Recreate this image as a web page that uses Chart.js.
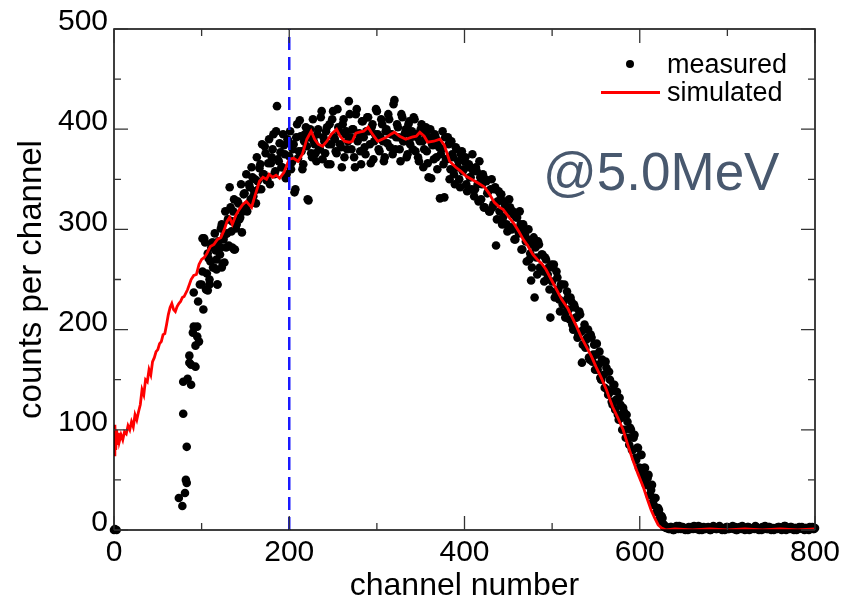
<!DOCTYPE html>
<html>
<head>
<meta charset="utf-8">
<script src="https://cdn.jsdelivr.net/npm/chart.js@4.4.1/dist/chart.umd.min.js"></script>
<style>
    html, body { margin: 0; padding: 0; background: #fff; }
    #wrap { position: relative; width: 856px; height: 603px; }
    #spectrumChart { display: block; }
    .note { position: absolute; left: 543px; top: 145px; font: 53px/1 "Liberation Sans", Arial, sans-serif; color: #48586e; white-space: nowrap; }
    .legend-text { position: absolute; left: 667px; font: 27px/1 "Liberation Sans", Arial, sans-serif; color: #000; white-space: nowrap; }
    .legend-dot { position: absolute; left: 626px; top: 60px; width: 8px; height: 8px; border-radius: 50%; background: #000; }
    .legend-line { position: absolute; left: 601px; top: 91px; width: 59px; height: 3px; background: #ff0000; }
</style>
</head>
<body>
<div id="wrap">
    <canvas id="spectrumChart" width="856" height="603"></canvas>
    <div class="note">@5.0MeV</div>
    <div class="legend-dot"></div>
    <div class="legend-line"></div>
    <div class="legend-text" style="top:51px">measured</div>
    <div class="legend-text" style="top:79px">simulated</div>
</div>
<script>
// axis ticks
const xMajorTicks = [0, 200, 400, 600, 800];
const xMinorTicks = [100, 300, 500, 700];
const yMajorTicks = [0, 100, 200, 300, 400, 500];
const yMinorTicks = [50, 150, 250, 350, 450];

// dashed marker channel
const markerChannel = 200;

// measured: sparse points read one by one
const measuredStemChannels = [0, 1, 3, 74, 78, 81, 82, 83, 83, 79, 79, 84, 88, 86, 88, 93, 86, 93, 97, 95, 90, 95, 91, 91, 96, 98, 107, 109, 118, 117, 123, 126, 101, 113, 122, 135, 137];
const measuredStemCounts = [0, 1, 0, 32, 24, 37, 50, 47, 83, 116, 148, 151, 145, 167, 165, 163, 174, 184, 188, 193, 197, 203, 203, 237, 228, 245, 239, 245, 245, 260, 262, 267, 291, 287, 282, 282, 280];

// measured band, even channels 100..630
const measuredEvenStart = 100;
const measuredEvenCounts = [
    245, 220, 287, 256, 271, 268,
    287, 262, 279, 245, 282, 301, 266, 294, 282, 310,
    342, 298, 318, 280, 305, 326, 312, 297, 335, 322,
    318, 345, 330, 352, 338, 326, 348, 361, 340, 355,
    383, 349, 366, 345, 372, 395, 358, 423, 368, 377,
    362, 384, 351, 390, 373, 360, 380, 337, 392, 371,
    409, 378, 365, 395, 383, 329, 400, 372, 388, 376,
    395, 380, 412, 370, 388, 398, 365, 405, 385, 418,
    390, 376, 402, 385, 362, 410, 395, 380, 428, 392,
    400, 372, 415, 388, 396, 365, 408, 382, 398, 412,
    385, 402, 370, 395, 418, 380, 392, 405, 368, 398,
    386, 410, 395, 375, 429, 392, 402, 380, 415, 388,
    396, 372, 405, 385, 398, 412, 378, 392, 368, 400,
    388, 380, 402, 366, 392, 351, 384, 395, 372, 388,
    331, 380, 365, 392, 370, 385, 360, 375, 355, 382,
    362, 350, 375, 358, 368, 345, 362, 352, 340, 358,
    340, 358, 328, 352, 345, 322, 350, 336, 318, 340,
    322, 340, 284, 328, 318, 335, 312, 325, 305, 318,
    322, 300, 315, 290, 312, 296, 305, 280, 298, 288,
    290, 270, 249, 285, 232, 272, 288, 262, 275, 258,
    272, 250, 262, 212, 248, 265, 238, 252, 230, 245,
    225, 245, 218, 232, 210, 228, 200, 222, 212, 195,
    215, 167, 200, 182, 192, 172, 195, 168, 185, 175,
    160, 178, 150, 168, 142, 162, 135, 150, 128, 145,
    120, 138, 110, 125, 100, 118, 92, 108, 85, 100,
    80, 95, 70, 82, 62, 75, 52, 62, 45, 55,
    35, 45, 25, 32, 18, 20, 8, 12, 3, 2
];

// measured band, odd channels 101..629
const measuredOddStart = 101;
const measuredOddCounts = [
    258, 291, 240, 276, 250, 282, 262, 296, 270, 288,
    275, 305, 290, 318, 296, 284, 322, 308, 330, 301,
    328, 310, 345, 318, 336, 355, 325, 342, 362, 333,
    350, 372, 340, 365, 385, 355, 376, 350, 390, 366,
    380, 355, 398, 370, 386, 362, 395, 375, 355, 388,
    398, 367, 385, 340, 405, 378, 393, 360, 388, 402,
    330, 392, 376, 410, 385, 368, 400, 380, 418, 392,
    376, 402, 385, 365, 410, 392, 378, 420, 398, 382,
    405, 372, 398, 388, 415, 380, 400, 362, 420, 395,
    378, 408, 392, 375, 412, 398, 366, 405, 388, 420,
    395, 378, 410, 388, 372, 400, 415, 382, 395, 425,
    380, 405, 392, 368, 412, 388, 400, 375, 408, 392,
    380, 410, 395, 372, 388, 405, 362, 395, 378, 352,
    400, 385, 370, 392, 360, 382, 375, 398, 332, 370,
    392, 350, 388, 372, 345, 380, 368, 342, 378, 360,
    372, 338, 365, 352, 375, 333, 362, 345, 368, 330,
    355, 322, 348, 338, 318, 350, 325, 342, 310, 338,
    335, 305, 328, 322, 298, 330, 302, 318, 290, 312,
    300, 318, 280, 305, 295, 268, 300, 276, 262, 292,
    282, 255, 285, 260, 275, 248, 270, 255, 240, 265,
    262, 232, 258, 240, 218, 245, 228, 212, 238, 220,
    232, 205, 225, 212, 192, 218, 198, 185, 205, 190,
    200, 170, 192, 175, 160, 186, 165, 152, 170, 155,
    168, 140, 158, 138, 125, 145, 130, 115, 132, 112,
    122, 100, 115, 92, 102, 80, 92, 72, 82, 62,
    75, 55, 62, 45, 52, 35, 40, 28, 32, 18,
    22, 12, 14, 6, 4
];

// measured flat tail, even channels 632..800 and odd 633..799
const measuredTailEvenStart = 632;
const measuredTailEvenCounts = [
    2, 1, 3, 0, 2, 4, 1, 2, 3, 1, 0, 2, 3, 1, 2, 4, 2, 1, 0, 3,
    2, 1, 2, 3, 0, 1, 4, 2, 1, 3, 2, 0, 1, 2, 3, 1, 2, 4, 1, 0,
    2, 3, 1, 2, 0, 1, 3, 2, 1, 2, 4, 1, 0, 2, 3, 1, 2, 1, 3, 0,
    2, 1, 2, 3, 1, 0, 2, 4, 1, 2, 3, 1, 0, 2, 1, 3, 2, 1, 0, 2,
    1, 3, 2, 1, 2
];
const measuredTailOddStart = 633;
const measuredTailOddCounts = [
    1, 3, 2, 0, 1, 2, 4, 1, 3, 2, 1, 0, 2, 3, 1, 2, 1, 4, 2, 0,
    3, 1, 2, 1, 0, 2, 3, 1, 2, 4, 1, 2, 0, 3, 1, 2, 2, 1, 3, 0,
    1, 2, 4, 1, 2, 3, 0, 1, 2, 1, 3, 2, 1, 0, 2, 4, 1, 3, 2, 1,
    0, 2, 1, 3, 2, 1, 4, 0, 2, 1, 3, 1, 2, 0, 1, 2, 3, 1, 2, 1,
    0, 2, 3, 1
];
const channelStep = 2;

// simulated spectrum
const simChannels = [0, 1, 2, 3, 4, 5, 6, 8, 10, 12, 14, 16, 18, 20, 22, 24, 26, 28, 30, 32, 34, 36, 38, 40, 42, 44, 46, 48, 50, 52, 54, 56, 58, 60, 62, 64, 66, 68, 70, 72, 74, 76, 78, 80,
    84, 88, 91, 94, 97, 100, 103, 106, 110, 114, 118, 122, 126, 129, 132, 135, 139, 143, 147, 151, 154, 157, 161, 166, 170, 174, 177, 181, 185, 189, 194, 200,
    205, 210, 215, 220, 225, 229, 233, 238, 243, 248, 254, 258, 263, 268, 272, 276, 280, 285, 290, 295,
    301, 306, 311, 316, 320, 326, 333, 340, 345, 349, 354, 358, 365, 372, 377, 383, 390, 396, 402, 410,
    416, 423, 428, 434, 440, 444, 450, 457, 462, 467, 472, 478, 483, 488, 493, 499, 505, 511, 518, 523,
    528, 533, 539, 545, 550, 556, 562, 566, 569, 575, 581, 586, 592, 598, 604, 609, 613, 617, 621, 625,
    630, 640, 660, 680, 700, 720, 740, 760, 780, 800];
const simCounts = [75, 105, 80, 100, 85, 97, 88, 95, 90, 98, 96, 104, 100, 108, 103, 115, 110, 118, 125, 140, 135, 150, 148, 160, 155, 168, 172, 178, 180, 186, 188, 195, 196, 205, 215, 222, 226, 220, 218, 223, 226, 228, 232, 233,
    240, 250, 254, 255, 265, 270, 272, 276, 283, 285, 290, 292, 300, 308, 312, 305, 314, 320, 325, 328, 325, 322, 334, 348, 352, 350, 355, 352, 354, 351, 357, 370,
    371, 368, 375, 390, 398, 390, 385, 383, 388, 395, 400, 393, 388, 387, 388, 396, 397, 398, 402, 395,
    388, 390, 392, 395, 397, 393, 390, 392, 393, 397, 393, 387, 388, 390, 384, 368, 362, 358, 353, 349,
    346, 342, 336, 327, 322, 320, 313, 305, 298, 290, 284, 275, 270, 266, 260, 250, 240, 230, 221, 212,
    203, 193, 183, 173, 163, 152, 140, 130, 123, 112, 100, 86, 70, 56, 43, 30, 20, 12, 5, 2,
    0, 1, 0, 1, 0, 1, 0, 1, 0, 1];

document.addEventListener("DOMContentLoaded", () => {
    const measuredPoints = [];
    const addRun = (start, counts) => counts.forEach((v, i) => measuredPoints.push({ x: start + i * channelStep, y: v }));
    measuredStemChannels.forEach((c, i) => measuredPoints.push({ x: c, y: measuredStemCounts[i] }));
    addRun(measuredEvenStart, measuredEvenCounts);
    addRun(measuredOddStart, measuredOddCounts);
    addRun(measuredTailEvenStart, measuredTailEvenCounts);
    addRun(measuredTailOddStart, measuredTailOddCounts);

    const simPoints = simChannels.map((c, i) => ({ x: c, y: simCounts[i] }));

    // frame plus inward ticks on all four sides
    const frameTicks = {
        id: 'frameTicks',
        afterDraw(chart) {
            const { ctx, chartArea: { left, right, top, bottom }, scales: { x, y } } = chart;
            ctx.save();
            ctx.strokeStyle = '#000';
            ctx.lineWidth = 1.5;
            ctx.strokeRect(left, top, right - left, bottom - top);
            ctx.strokeStyle = '#333';
            ctx.lineWidth = 1.3;
            ctx.beginPath();
            const xt = (vals, len) => vals.forEach(v => {
                const px = x.getPixelForValue(v);
                ctx.moveTo(px, bottom); ctx.lineTo(px, bottom - len);
                ctx.moveTo(px, top); ctx.lineTo(px, top + len);
            });
            const yt = (vals, len) => vals.forEach(v => {
                const py = y.getPixelForValue(v);
                ctx.moveTo(left, py); ctx.lineTo(left + len, py);
                ctx.moveTo(right, py); ctx.lineTo(right - len, py);
            });
            xt(xMajorTicks, 14); xt(xMinorTicks, 7);
            yt(yMajorTicks, 14); yt(yMinorTicks, 7);
            ctx.stroke();
            ctx.restore();
        }
    };

    Chart.defaults.font.family = '"Liberation Sans", Arial, sans-serif';
    Chart.defaults.color = '#000';

    const ctx = document.getElementById('spectrumChart').getContext('2d');
    new Chart(ctx, {
        type: 'scatter',
        data: {
            datasets: [{
                label: 'marker',
                data: [{ x: markerChannel, y: 0 }, { x: markerChannel, y: 500 }],
                showLine: true,
                borderColor: '#1a1aff',
                borderWidth: 2.5,
                borderDash: [13, 7],
                pointRadius: 0,
                order: 0
            }, {
                label: 'simulated',
                data: simPoints,
                showLine: true,
                borderColor: '#ff0000',
                borderWidth: 2.8,
                pointRadius: 0,
                order: 1
            }, {
                label: 'measured',
                data: measuredPoints,
                pointRadius: 4.3,
                pointBackgroundColor: '#000',
                pointBorderWidth: 0,
                clip: 8,
                order: 2
            }]
        },
        options: {
            responsive: false,
            animation: false,
            devicePixelRatio: 1,
            layout: { padding: { top: 29, right: 41, left: 0, bottom: 0 } },
            plugins: { legend: { display: false }, tooltip: { enabled: false } },
            scales: {
                x: {
                    type: 'linear', min: 0, max: 800,
                    grid: { display: false, drawTicks: false },
                    border: { display: false },
                    ticks: { stepSize: 200, padding: 5, maxRotation: 0, autoSkip: false, font: { size: 30 } },
                    title: { display: true, text: 'channel number', font: { size: 32 }, padding: { top: 0, bottom: -2 } },
                    afterFit: s => { s.height = 73; }
                },
                y: {
                    type: 'linear', min: 0, max: 500,
                    grid: { display: false, drawTicks: false },
                    border: { display: false },
                    ticks: { stepSize: 100, padding: 6, labelOffset: -7, font: { size: 30 } },
                    title: { display: true, text: 'counts per channel', font: { size: 33 }, padding: { top: 12, bottom: 0 } },
                    afterFit: s => { s.width = 114; }
                }
            }
        },
        plugins: [frameTicks]
    });
});
</script>
</body>
</html>
